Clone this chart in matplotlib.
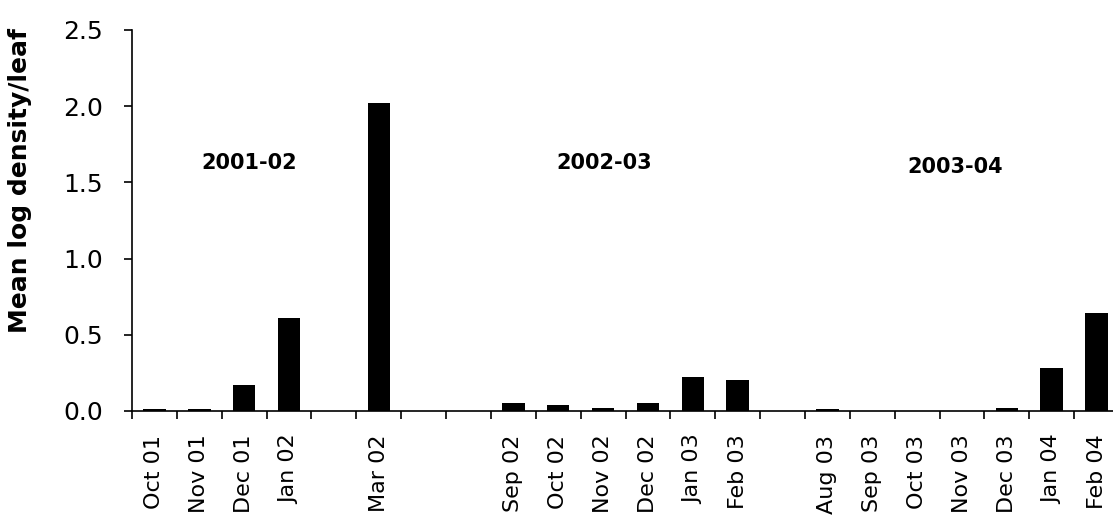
import numpy as np
from matplotlib import pyplot as plt

# months sampled over three seasons (blank = gap slot)
months = ['Oct 01', 'Nov 01', 'Dec 01', 'Jan 02', '', 'Mar 02', '', '',
          'Sep 02', 'Oct 02', 'Nov 02', 'Dec 02', 'Jan 03', 'Feb 03', '',
          'Aug 03', 'Sep 03', 'Oct 03', 'Nov 03', 'Dec 03', 'Jan 04', 'Feb 04']
density = [0.015, 0.015, 0.17, 0.61, 0.0, 2.02, 0.0, 0.0,
           0.05, 0.04, 0.02, 0.05, 0.22, 0.205, 0.0,
           0.01, 0.003, 0.0, 0.0, 0.02, 0.28, 0.64]
seasons = ['2001-02', '2002-03', '2003-04']
season_x = [2.11, 10.02, 17.85]
season_y = [1.63, 1.63, 1.60]
y_ticks = [0.0, 0.5, 1.0, 1.5, 2.0, 2.5]

plt.rcParams['font.family'] = ['DejaVu Sans']

fig = plt.figure(figsize=(11.13, 5.22), dpi=100)
ax = fig.add_axes([132 / 1113, 111 / 522, 987 / 1113, 381 / 522])

x = np.arange(len(months))
ax.bar(x, density, width=0.5, color='black')

for name, sx, sy in zip(seasons, season_x, season_y):
    ax.text(sx, sy, name, ha='center', va='center', fontsize=15, fontweight='bold')

ax.set_xlim(-0.5, len(months) - 0.5)
ax.set_ylim(0, 2.5)

ax.set_xticks(x)
ax.set_xticklabels(months, rotation=90, fontsize=16)
ax.set_xticks(np.arange(len(months) + 1) - 0.5, minor=True)
ax.tick_params(axis='x', which='major', length=0, pad=17)
ax.tick_params(axis='x', which='minor', length=6, width=1.2, direction='out')

ax.set_yticks(y_ticks)
ax.set_yticklabels([f'{v:.1f}' for v in y_ticks], fontsize=18)
ax.tick_params(axis='y', length=6, width=1.2, pad=15)

ax.spines['top'].set_visible(False)
ax.spines['right'].set_visible(False)
ax.spines['left'].set_linewidth(1.2)
ax.spines['bottom'].set_linewidth(1.2)

ax.set_ylabel('Mean log density/leaf', fontsize=18, fontweight='bold')
ax.yaxis.set_label_coords(-0.101, 0.604)

fig.savefig('out.png', dpi=100)
